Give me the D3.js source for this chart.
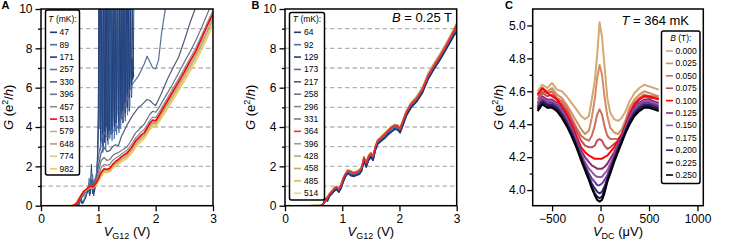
<!DOCTYPE html>
<html>
<head>
<meta charset="utf-8">
<script src="https://cdn.jsdelivr.net/npm/d3@7"></script>
<style>
body { margin: 0; background: #fff; }
svg { display: block; }
</style>
</head>
<body>
<script>
'use strict'

// ---------- panel A : G vs VG12 at B = 0 ----------
const tempsA = ['47', '89', '171', '257', '330', '396', '457', '513', '579', '648', '774', '982']
const colorsA = ['#1b3a6f', '#4c6fa6', '#1f3e7c', '#5b6f9d', '#4f5b79', '#6e7282', '#8a8a8c', '#ff0000', '#b6ae98', '#b39d70', '#dcc57d', '#eac94c']

const vA = [0.40, 0.55, 0.62, 0.68, 0.74, 0.80, 0.86, 0.91, 0.96, 1.00,
    1.05, 1.10, 1.15, 1.20, 1.25, 1.30, 1.35, 1.40, 1.45, 1.50,
    1.55, 1.60, 1.65, 1.70, 1.75, 1.80, 1.85, 1.90, 1.95, 2.00,
    2.05, 2.10, 2.20, 2.30, 2.40, 2.50, 2.60, 2.70, 2.80, 2.90, 3.00]

// the three coldest traces are very noisy, kept as (V, G) pairs
const gA47 = [[0.60, 0], [0.66, 0.05], [0.69, 0.55], [0.71, 0.1], [0.74, 0.2], [0.78, 0.4], [0.82, 0.9], [0.85, 0.5], [0.88, 2.1], [0.90, 0.6],
    [0.93, 0.9], [0.96, 1.3], [0.99, 2.5],
    [1.00, 5], [1.01, 11], [1.02, 8], [1.03, 3.9], [1.04, 11], [1.05, 11], [1.06, 4.5], [1.07, 3.4], [1.08, 9], [1.09, 11],
    [1.10, 6], [1.11, 3.2], [1.12, 11], [1.13, 7], [1.14, 4], [1.15, 11], [1.16, 11], [1.17, 5], [1.18, 3.5], [1.19, 8],
    [1.20, 11], [1.21, 4.2], [1.22, 3.6], [1.23, 11], [1.24, 9], [1.25, 4.4], [1.26, 11], [1.27, 11], [1.28, 5.2], [1.29, 3.8],
    [1.30, 10], [1.31, 11], [1.32, 4.6], [1.33, 7], [1.34, 11], [1.35, 5], [1.36, 3.9], [1.37, 11], [1.38, 8.5], [1.39, 4.8],
    [1.40, 11], [1.41, 11], [1.42, 5.5], [1.43, 4.2], [1.44, 9], [1.45, 11], [1.46, 5.8], [1.47, 4.5], [1.48, 11], [1.49, 7.5],
    [1.50, 5], [1.51, 11], [1.52, 11], [1.53, 6], [1.54, 4.8], [1.55, 10], [1.56, 11], [1.57, 6.2], [1.58, 5.5], [1.59, 11],
    [1.60, 8], [1.61, 6.5], [1.62, 11], [1.63, 11]]
const gA89 = [[0.60, 0], [0.66, 0.02], [0.70, 0.3], [0.73, 0.15], [0.77, 0.5], [0.81, 0.7], [0.84, 1.4], [0.87, 0.8], [0.90, 1.6], [0.93, 0.7],
    [0.97, 1.6],
    [1.00, 3.5], [1.01, 8], [1.02, 11], [1.03, 5], [1.04, 2.8], [1.05, 3.5], [1.06, 11], [1.07, 7], [1.08, 2.7], [1.09, 4],
    [1.10, 11], [1.11, 11], [1.12, 3.8], [1.13, 2.9], [1.14, 6], [1.15, 11], [1.16, 4.2], [1.17, 3.1], [1.18, 11], [1.19, 9],
    [1.20, 3.4], [1.21, 3.9], [1.22, 11], [1.23, 6.5], [1.24, 3.3], [1.25, 5], [1.26, 11], [1.27, 4.5], [1.28, 3.4], [1.29, 11],
    [1.30, 11], [1.31, 4], [1.32, 3.6], [1.33, 8], [1.34, 11], [1.35, 4.4], [1.36, 3.7], [1.37, 11], [1.38, 6], [1.39, 3.9],
    [1.40, 5.5], [1.41, 11], [1.42, 9], [1.43, 4.2], [1.44, 4.4], [1.45, 11], [1.46, 7], [1.47, 4.3], [1.48, 11], [1.49, 11],
    [1.50, 5], [1.51, 4.6], [1.52, 8], [1.53, 11], [1.54, 5.5], [1.55, 5], [1.56, 11], [1.57, 7], [1.58, 5.6], [1.59, 6.5],
    [1.60, 7]]
const gA171 = [[0.60, 0], [0.67, 0.1], [0.70, 0.4], [0.73, 0.1], [0.76, 0.3], [0.80, 0.6], [0.83, 1.0], [0.86, 0.6], [0.89, 1.3], [0.92, 0.5],
    [0.95, 1.0], [0.98, 1.8],
    [1.00, 4.5], [1.01, 11], [1.02, 11], [1.03, 6], [1.04, 3.2], [1.05, 7], [1.06, 11], [1.07, 5], [1.08, 3.0], [1.09, 11],
    [1.10, 11], [1.11, 4.5], [1.12, 3.5], [1.13, 9], [1.14, 11], [1.15, 4], [1.16, 3.3], [1.17, 11], [1.18, 7], [1.19, 3.8],
    [1.20, 6], [1.21, 11], [1.22, 11], [1.23, 4.5], [1.24, 3.7], [1.25, 8], [1.26, 11], [1.27, 5], [1.28, 4], [1.29, 11],
    [1.30, 8], [1.31, 4.2], [1.32, 6.5], [1.33, 11], [1.34, 11], [1.35, 4.6], [1.36, 4.1], [1.37, 10], [1.38, 11], [1.39, 5.2],
    [1.40, 4.4], [1.41, 11], [1.42, 7.5], [1.43, 4.8], [1.44, 11], [1.45, 11], [1.46, 5.5], [1.47, 4.7], [1.48, 9], [1.49, 11],
    [1.50, 6], [1.51, 5], [1.52, 11], [1.53, 8], [1.54, 5.5], [1.55, 7], [1.56, 11], [1.57, 6.5], [1.58, 6], [1.59, 7.5],
    [1.60, 6.4], [1.61, 6.8], [1.62, 6.6]]

const gA257 = [0, 0, 0.05, 0.3, 0.5, 0.8, 1.2, 1.1, 1.5, 2.4,
    3.3, 3.75, 3.5, 3.7, 3.85, 3.8, 4.1, 4.5, 4.9, 5.4,
    5.9, 6.2, 6.4, 6.6, 6.9, 7.2, 7.6, 7.3, 7.0, 6.95,
    7.4, 8.7, 10.6]
const gA330 = [0, 0, 0.08, 0.35, 0.6, 0.85, 1.1, 1.05, 1.35, 2.0,
    2.7, 2.95, 2.75, 2.8, 3.0, 3.1, 3.05, 3.5, 3.8, 4.1,
    4.35, 4.6, 4.8, 5.0, 5.1, 5.25, 5.4, 5.35, 5.2, 5.1,
    5.4, 5.7, 6.4, 7.0, 7.55, 8.4, 9.3, 10.1, 10.9, 11.7, 12.5]
const gA396 = [0, 0, 0.1, 0.38, 0.65, 0.85, 1.05, 1.0, 1.25, 1.7,
    2.3, 2.45, 2.3, 2.35, 2.55, 2.65, 2.7, 2.8, 2.9, 3.0,
    3.2, 3.45, 3.7, 3.85, 4.0, 4.15, 4.4, 4.65, 4.8, 4.75,
    4.95, 5.2, 5.7, 6.2, 6.75, 7.3, 7.82, 8.4, 9.05, 9.75, 10.4]
const gA457 = [0, 0, 0.12, 0.4, 0.7, 0.85, 1.02, 0.97, 1.2, 1.5,
    1.95, 2.1, 2.05, 2.1, 2.3, 2.42, 2.5, 2.62, 2.72, 2.82,
    3.0, 3.2, 3.45, 3.6, 3.75, 3.87, 4.1, 4.35, 4.5, 4.48,
    4.7, 4.95, 5.45, 5.95, 6.45, 6.97, 7.5, 8.02, 8.65, 9.3, 9.92]
const gA513 = [0, 0, 0.1, 0.42, 0.72, 0.85, 1.0, 0.95, 1.15, 1.35,
    1.7, 1.88, 1.85, 1.9, 2.1, 2.25, 2.35, 2.48, 2.58, 2.68,
    2.85, 3.05, 3.3, 3.45, 3.6, 3.7, 3.95, 4.2, 4.35, 4.32,
    4.55, 4.8, 5.3, 5.8, 6.3, 6.8, 7.35, 7.85, 8.5, 9.15, 9.75]
const gA579 = [0, 0, 0.12, 0.43, 0.72, 0.84, 0.98, 0.94, 1.12, 1.3,
    1.63, 1.82, 1.8, 1.85, 2.04, 2.18, 2.28, 2.41, 2.5, 2.6,
    2.77, 2.96, 3.2, 3.36, 3.51, 3.62, 3.86, 4.1, 4.25, 4.24,
    4.46, 4.7, 5.2, 5.68, 6.18, 6.68, 7.2, 7.72, 8.32, 8.95, 9.6]
const gA648 = [0, 0, 0.14, 0.44, 0.71, 0.83, 0.96, 0.93, 1.1, 1.27,
    1.58, 1.78, 1.76, 1.81, 1.99, 2.12, 2.22, 2.35, 2.44, 2.54,
    2.7, 2.89, 3.12, 3.28, 3.43, 3.55, 3.78, 4.02, 4.18, 4.17,
    4.38, 4.62, 5.1, 5.58, 6.07, 6.57, 7.08, 7.6, 8.18, 8.82, 9.48]
const gA774 = [0, 0.02, 0.16, 0.45, 0.7, 0.82, 0.94, 0.91, 1.07, 1.24,
    1.53, 1.73, 1.72, 1.77, 1.94, 2.06, 2.16, 2.29, 2.37, 2.47,
    2.63, 2.82, 3.04, 3.2, 3.35, 3.47, 3.7, 3.94, 4.1, 4.1,
    4.3, 4.53, 5.0, 5.47, 5.95, 6.45, 6.95, 7.47, 8.04, 8.68, 9.33]
const gA982 = [0, 0.03, 0.18, 0.46, 0.69, 0.8, 0.92, 0.89, 1.04, 1.2,
    1.48, 1.68, 1.68, 1.72, 1.88, 2.0, 2.1, 2.22, 2.3, 2.4,
    2.56, 2.74, 2.96, 3.12, 3.27, 3.39, 3.62, 3.86, 4.02, 4.02,
    4.22, 4.44, 4.9, 5.36, 5.83, 6.32, 6.82, 7.33, 7.9, 8.53, 9.18]

// ---------- panel B : G vs VG12 at B = 0.25 T ----------
const tempsB = ['64', '92', '129', '173', '217', '258', '296', '331', '364', '396', '428', '458', '485', '514']
const colorsB = ['#1b3a6f', '#4c6fa6', '#1f3e7c', '#5b6f9d', '#4f5b79', '#6e7282', '#8a8a8c', '#7d7d7d', '#ff2a2a', '#a39c82', '#b6a97a', '#c6ac55', '#d9bb4a', '#ecd27a']

const vB = [0.40, 0.62, 0.66, 0.70, 0.74, 0.78, 0.82, 0.86, 0.90, 0.94,
    0.98, 1.02, 1.06, 1.10, 1.15, 1.20, 1.25, 1.30, 1.34, 1.38,
    1.42, 1.46, 1.50, 1.54, 1.58, 1.62, 1.68, 1.74, 1.80, 1.86,
    1.92, 1.97, 2.01, 2.06, 2.12, 2.20, 2.30, 2.40, 2.50, 2.60,
    2.70, 2.80, 2.90, 2.96, 3.00]

const gB64 = [0, 0, 0.02, 0.35, 0.25, 0.5, 0.62, 0.75, 0.85, 0.7, 0.9, 1.25, 1.5, 1.66, 1.55, 1.52, 1.56, 1.62, 1.8, 2.3,
    1.98, 2.35, 2.5, 2.32, 2.85, 3.15, 3.3, 3.45, 3.65, 3.78, 3.92, 3.88, 3.72, 4.1, 4.6, 5.0, 5.3, 5.75, 6.45, 6.95,
    7.4, 7.9, 8.4, 8.72, 8.85]
const gB92 = [0, 0, 0.03, 0.3, 0.3, 0.52, 0.65, 0.8, 0.88, 0.75, 0.95, 1.3, 1.55, 1.7, 1.6, 1.55, 1.62, 1.68, 1.85, 2.35,
    2.05, 2.4, 2.56, 2.42, 2.92, 3.2, 3.38, 3.52, 3.7, 3.88, 3.98, 3.95, 3.8, 4.2, 4.65, 5.05, 5.36, 5.82, 6.52, 7.02,
    7.48, 7.98, 8.48, 8.8, 9.0]
const gB129 = [0, 0, 0.02, 0.38, 0.22, 0.48, 0.6, 0.74, 0.82, 0.68, 0.88, 1.22, 1.48, 1.64, 1.52, 1.48, 1.54, 1.6, 1.76, 2.25,
    1.95, 2.3, 2.45, 2.3, 2.8, 3.12, 3.28, 3.42, 3.6, 3.75, 3.88, 3.84, 3.7, 4.06, 4.55, 4.96, 5.28, 5.72, 6.42, 6.92,
    7.36, 7.86, 8.36, 8.68, 8.8]
const gB173 = [0, 0, 0.04, 0.28, 0.32, 0.55, 0.66, 0.8, 0.9, 0.76, 0.98, 1.32, 1.56, 1.72, 1.62, 1.57, 1.63, 1.7, 1.86, 2.38,
    2.08, 2.42, 2.58, 2.44, 2.94, 3.22, 3.38, 3.54, 3.72, 3.9, 4.0, 3.97, 3.82, 4.2, 4.66, 5.06, 5.38, 5.82, 6.52, 7.02,
    7.48, 7.96, 8.48, 8.8, 9.05]
const gB217 = [0, 0, 0.04, 0.22, 0.38, 0.58, 0.7, 0.85, 0.93, 0.8, 1.02, 1.37, 1.6, 1.76, 1.7, 1.63, 1.68, 1.76, 1.9, 2.42,
    2.13, 2.47, 2.62, 2.47, 2.97, 3.27, 3.43, 3.6, 3.78, 3.95, 4.05, 4.02, 3.87, 4.27, 4.72, 5.12, 5.43, 5.88, 6.57, 7.07,
    7.52, 8.02, 8.56, 8.9, 9.15]
const gB258 = [0, 0, 0.04, 0.21, 0.39, 0.59, 0.71, 0.86, 0.94, 0.81, 1.03, 1.38, 1.61, 1.77, 1.71, 1.64, 1.69, 1.77, 1.91, 2.43,
    2.14, 2.48, 2.63, 2.48, 2.98, 3.28, 3.44, 3.61, 3.79, 3.96, 4.06, 4.03, 3.88, 4.28, 4.73, 5.13, 5.44, 5.89, 6.58, 7.08,
    7.53, 8.03, 8.57, 8.92, 9.18]
const gB296 = [0, 0, 0.05, 0.2, 0.4, 0.6, 0.72, 0.87, 0.95, 0.82, 1.04, 1.39, 1.62, 1.78, 1.72, 1.65, 1.7, 1.78, 1.92, 2.44,
    2.15, 2.49, 2.64, 2.49, 2.99, 3.29, 3.45, 3.62, 3.8, 3.97, 4.07, 4.04, 3.89, 4.29, 4.74, 5.14, 5.45, 5.9, 6.59, 7.09,
    7.54, 8.04, 8.58, 8.93, 9.2]
const gB331 = [0, 0, 0.05, 0.2, 0.41, 0.6, 0.73, 0.88, 0.95, 0.83, 1.05, 1.4, 1.62, 1.78, 1.73, 1.66, 1.71, 1.79, 1.93, 2.45,
    2.16, 2.5, 2.65, 2.5, 3.0, 3.3, 3.46, 3.63, 3.81, 3.98, 4.08, 4.05, 3.9, 4.3, 4.75, 5.15, 5.46, 5.91, 6.6, 7.1,
    7.55, 8.05, 8.59, 8.94, 9.22]
const gB364 = [0, 0, 0.05, 0.2, 0.4, 0.6, 0.72, 0.88, 0.95, 0.82, 1.05, 1.4, 1.62, 1.78, 1.72, 1.65, 1.7, 1.78, 1.92, 2.45,
    2.15, 2.5, 2.65, 2.5, 3.0, 3.3, 3.45, 3.62, 3.8, 3.98, 4.08, 4.05, 3.9, 4.3, 4.75, 5.15, 5.45, 5.9, 6.6, 7.1,
    7.55, 8.05, 8.6, 8.95, 9.25]
const gB396 = [0, 0, 0.06, 0.22, 0.42, 0.61, 0.73, 0.89, 0.96, 0.84, 1.07, 1.41, 1.63, 1.79, 1.74, 1.67, 1.72, 1.8, 1.94, 2.46,
    2.18, 2.52, 2.67, 2.53, 3.02, 3.32, 3.48, 3.65, 3.83, 4.0, 4.1, 4.07, 3.93, 4.32, 4.78, 5.18, 5.49, 5.95, 6.65, 7.15,
    7.6, 8.1, 8.64, 8.98, 9.22]
const gB428 = [0, 0.01, 0.07, 0.23, 0.43, 0.62, 0.74, 0.9, 0.97, 0.85, 1.08, 1.42, 1.64, 1.8, 1.75, 1.68, 1.73, 1.81, 1.95, 2.47,
    2.19, 2.53, 2.68, 2.54, 3.03, 3.33, 3.49, 3.66, 3.84, 4.01, 4.11, 4.08, 3.94, 4.33, 4.79, 5.2, 5.51, 5.97, 6.68, 7.18,
    7.63, 8.13, 8.66, 9.0, 9.22]
const gB458 = [0, 0.01, 0.08, 0.24, 0.44, 0.62, 0.75, 0.9, 0.97, 0.86, 1.09, 1.43, 1.65, 1.81, 1.76, 1.69, 1.74, 1.82, 1.96, 2.48,
    2.2, 2.54, 2.69, 2.55, 3.04, 3.34, 3.5, 3.67, 3.85, 4.02, 4.12, 4.09, 3.95, 4.34, 4.8, 5.21, 5.53, 5.99, 6.7, 7.2,
    7.65, 8.15, 8.68, 9.02, 9.2]
const gB485 = [0, 0.02, 0.09, 0.25, 0.45, 0.63, 0.75, 0.91, 0.98, 0.87, 1.1, 1.44, 1.66, 1.82, 1.77, 1.7, 1.75, 1.83, 1.97, 2.49,
    2.21, 2.55, 2.7, 2.56, 3.05, 3.35, 3.51, 3.68, 3.86, 4.03, 4.13, 4.1, 3.96, 4.35, 4.81, 5.22, 5.55, 6.01, 6.72, 7.22,
    7.67, 8.17, 8.7, 9.04, 9.2]
const gB514 = [0, 0.02, 0.1, 0.26, 0.46, 0.64, 0.76, 0.92, 0.99, 0.88, 1.11, 1.45, 1.67, 1.83, 1.78, 1.71, 1.76, 1.84, 1.98, 2.5,
    2.22, 2.56, 2.71, 2.57, 3.06, 3.36, 3.52, 3.69, 3.87, 4.04, 4.14, 4.11, 3.97, 4.36, 4.82, 5.23, 5.57, 6.03, 6.74, 7.24,
    7.69, 8.19, 8.72, 9.06, 9.2]

// ---------- panel C : G vs VDC at T = 364 mK ----------
const fieldsC = ['0.000', '0.025', '0.050', '0.075', '0.100', '0.125', '0.150', '0.175', '0.200', '0.225', '0.250']
const colorsC = ['#d4a870', '#d48c62', '#cc6e5c', '#bf4c5a', '#ff0000', '#8c2c72', '#9b55a3', '#6a3c9c', '#3c1f70', '#1d1b3c', '#000000']

const vC = [-650, -600, -550, -500, -450, -400, -350, -300, -250, -200,
    -160, -120, -90, -60, -35, -10, 15, 40, 70, 100,
    140, 180, 220, 260, 300, 350, 400, 450, 500, 550, 600]

const gC000 = [4.60, 4.64, 4.62, 4.65, 4.61, 4.60, 4.57, 4.53, 4.49, 4.45, 4.43, 4.45, 4.55, 4.66, 4.82, 5.02, 4.93, 4.76, 4.56, 4.47,
    4.43, 4.42, 4.44, 4.48, 4.54, 4.59, 4.62, 4.64, 4.63, 4.62, 4.61]
const gC025 = [4.58, 4.62, 4.60, 4.62, 4.58, 4.56, 4.52, 4.47, 4.42, 4.37, 4.34, 4.36, 4.44, 4.55, 4.68, 4.76, 4.70, 4.57, 4.45, 4.38,
    4.35, 4.34, 4.37, 4.43, 4.50, 4.55, 4.58, 4.60, 4.59, 4.58, 4.57]
const gC050 = [4.57, 4.60, 4.59, 4.60, 4.56, 4.54, 4.50, 4.44, 4.38, 4.33, 4.31, 4.30, 4.33, 4.39, 4.46, 4.49, 4.46, 4.39, 4.33, 4.31,
    4.31, 4.31, 4.34, 4.41, 4.48, 4.53, 4.56, 4.58, 4.57, 4.57, 4.56]
const gC075 = [4.55, 4.59, 4.57, 4.58, 4.55, 4.52, 4.48, 4.42, 4.36, 4.30, 4.27, 4.26, 4.26, 4.27, 4.30, 4.31, 4.30, 4.27, 4.25, 4.26,
    4.28, 4.30, 4.34, 4.40, 4.46, 4.52, 4.55, 4.57, 4.56, 4.56, 4.55]
const gC100 = [4.58, 4.62, 4.59, 4.57, 4.55, 4.51, 4.46, 4.40, 4.33, 4.26, 4.23, 4.21, 4.20, 4.19, 4.19, 4.19, 4.19, 4.20, 4.21, 4.23,
    4.26, 4.30, 4.34, 4.40, 4.46, 4.52, 4.55, 4.57, 4.57, 4.56, 4.55]
const gC125 = [4.53, 4.57, 4.55, 4.55, 4.53, 4.49, 4.44, 4.38, 4.31, 4.24, 4.20, 4.17, 4.15, 4.14, 4.13, 4.13, 4.13, 4.14, 4.16, 4.19,
    4.23, 4.28, 4.33, 4.39, 4.45, 4.50, 4.53, 4.55, 4.55, 4.54, 4.53]
const gC150 = [4.52, 4.56, 4.54, 4.54, 4.52, 4.48, 4.43, 4.37, 4.30, 4.22, 4.17, 4.13, 4.11, 4.09, 4.08, 4.08, 4.08, 4.10, 4.12, 4.16,
    4.21, 4.27, 4.32, 4.38, 4.44, 4.49, 4.52, 4.54, 4.54, 4.53, 4.52]
const gC175 = [4.51, 4.55, 4.53, 4.53, 4.51, 4.47, 4.42, 4.36, 4.29, 4.21, 4.15, 4.10, 4.07, 4.05, 4.03, 4.03, 4.04, 4.06, 4.09, 4.14,
    4.20, 4.26, 4.31, 4.37, 4.43, 4.48, 4.51, 4.53, 4.53, 4.52, 4.51]
const gC200 = [4.50, 4.54, 4.52, 4.52, 4.50, 4.46, 4.41, 4.35, 4.28, 4.20, 4.14, 4.08, 4.04, 4.01, 3.99, 3.98, 3.99, 4.02, 4.07, 4.12,
    4.19, 4.25, 4.31, 4.36, 4.42, 4.47, 4.50, 4.52, 4.52, 4.51, 4.50]
const gC225 = [4.49, 4.53, 4.51, 4.51, 4.49, 4.45, 4.40, 4.34, 4.27, 4.19, 4.13, 4.07, 4.02, 3.98, 3.96, 3.95, 3.96, 4.00, 4.06, 4.11,
    4.18, 4.24, 4.30, 4.36, 4.41, 4.46, 4.49, 4.51, 4.51, 4.50, 4.49]
const gC250 = [4.48, 4.52, 4.50, 4.50, 4.48, 4.44, 4.39, 4.33, 4.26, 4.18, 4.12, 4.06, 4.01, 3.97, 3.94, 3.93, 3.94, 3.98, 4.05, 4.10,
    4.17, 4.23, 4.29, 4.35, 4.40, 4.45, 4.48, 4.50, 4.50, 4.49, 4.48]

const yTicksA = [0, 2, 4, 6, 8, 10]
const yMinorA = [1, 3, 5, 7, 9]
const gridA = [1, 2, 3, 4, 5, 6, 7, 8, 9]
const xTicksA = [0, 1, 2, 3]
const yTicksC = [4.0, 4.2, 4.4, 4.6, 4.8, 5.0]
const yMinorC = [4.1, 4.3, 4.5, 4.7, 4.9]
const xTicksC = [-500, 0, 500, 1000]

// ---------- drawing ----------
const font = '"Liberation Sans", Arial, Helvetica, sans-serif'
const svg = d3.select('body').append('svg')
    .attr('width', 733).attr('height', 242)
    .attr('font-family', font)

let clipCount = 0

function drawPanel(p) {
    const x = d3.scaleLinear().domain(p.xDomain).range([p.left, p.right])
    const y = d3.scaleLinear().domain(p.yDomain).range([p.bottom, p.top])
    const g = svg.append('g')

    if (p.grid) {
        g.append('g').selectAll('line').data(p.grid).enter().append('line')
            .attr('x1', p.left).attr('x2', p.right)
            .attr('y1', d => y(d)).attr('y2', d => y(d))
            .attr('stroke', '#b4b4b4').attr('stroke-width', 1.3)
            .attr('stroke-dasharray', '4.5,3')
    }

    const id = 'clip' + clipCount++
    svg.append('clipPath').attr('id', id).append('rect')
        .attr('x', p.left).attr('y', p.top)
        .attr('width', p.right - p.left).attr('height', p.bottom - p.top)

    const line = d3.line().x(d => x(d[0])).y(d => y(d[1]))
    g.append('g').attr('clip-path', `url(#${id})`)
        .selectAll('path').data(p.series).enter().append('path')
        .attr('d', d => line(d.points))
        .attr('fill', 'none')
        .attr('stroke', d => d.color)
        .attr('stroke-width', d => d.width)
        .attr('stroke-linejoin', 'round')

    g.append('rect')
        .attr('x', p.left).attr('y', p.top)
        .attr('width', p.right - p.left).attr('height', p.bottom - p.top)
        .attr('fill', 'none').attr('stroke', '#000').attr('stroke-width', 1.5)

    const styleAxis = a => {
        a.select('.domain').remove()
        a.selectAll('.tick line').attr('stroke', '#000').attr('stroke-width', 1.3)
        a.selectAll('.tick text').attr('fill', '#000').attr('font-size', 12).attr('font-family', font)
    }

    g.append('g').attr('transform', `translate(${p.left},0)`)
        .call(d3.axisLeft(y).tickValues(p.yMinor).tickSize(3).tickFormat(''))
        .call(styleAxis)
    g.append('g').attr('transform', `translate(${p.left},0)`)
        .call(d3.axisLeft(y).tickValues(p.yTicks).tickFormat(p.yFormat).tickSize(5.5).tickPadding(p.yPad))
        .call(styleAxis)
    g.append('g').attr('transform', `translate(0,${p.bottom})`)
        .call(d3.axisBottom(x).tickValues(p.xTicks).tickFormat(p.xFormat).tickSize(5.5).tickPadding(3.5))
        .call(styleAxis)

    // axis titles
    const yl = g.append('text')
        .attr('transform', `translate(${p.yLabelX},${(p.top + p.bottom) / 2}) rotate(-90)`)
        .attr('text-anchor', 'middle').attr('font-size', 13)
    yl.append('tspan').attr('font-style', 'italic').text('G')
    yl.append('tspan').text(' (e')
    yl.append('tspan').attr('font-size', 9).attr('dy', -5).text('2')
    yl.append('tspan').attr('dy', 5).text('/')
    yl.append('tspan').attr('font-style', 'italic').text('h')
    yl.append('tspan').text(')')

    const xl = g.append('text')
        .attr('x', (p.left + p.right) / 2).attr('y', 236)
        .attr('text-anchor', 'middle').attr('font-size', 13)
    xl.append('tspan').attr('font-style', 'italic').text('V')
    xl.append('tspan').attr('font-size', 9).attr('dy', 2.5).text(p.xSub)
    xl.append('tspan').attr('dy', -2.5).text(p.xUnit)

    return { x, y }
}

function drawLegend(l) {
    const g = svg.append('g')
    g.append('rect')
        .attr('x', l.x).attr('y', l.y).attr('width', l.w).attr('height', l.h)
        .attr('rx', 2).attr('fill', '#fff').attr('stroke', '#000').attr('stroke-width', 1.5)
    const t = g.append('text')
        .attr('x', l.x + l.w / 2).attr('y', l.titleY)
        .attr('text-anchor', 'middle').attr('font-size', 8.5)
    t.append('tspan').attr('font-style', 'italic').text(l.sym)
    t.append('tspan').text(l.unit)
    const rows = g.selectAll('g.row').data(l.labels).enter().append('g')
        .attr('transform', (d, i) => `translate(${l.x},${l.rowY + i * l.step})`)
    rows.append('line')
        .attr('x1', 4.5).attr('x2', 11.5)
        .attr('stroke', (d, i) => l.colors[i]).attr('stroke-width', 1.6)
    rows.append('text')
        .attr('x', l.textX).attr('dy', '0.35em')
        .attr('font-size', 8.5).text(d => d)
}

// panel A
const pointsA = [gA47, gA89, gA171].concat(
    [gA257, gA330, gA396, gA457, gA513, gA579, gA648, gA774, gA982].map(v => d3.zip(vA, v)))
const widthA = t => t === '513' ? 1.6 : (['47', '89', '171'].includes(t) ? 0.9 : 1.2)
const seriesA = tempsA.map((t, i) => ({ label: t, points: pointsA[i], color: colorsA[i], width: widthA(t) }))
const orderA = seriesA.filter(s => s.label !== '513').concat(seriesA.filter(s => s.label === '513'))

drawPanel({
    left: 41, right: 213, top: 9, bottom: 205.7,
    xDomain: [0, 3], yDomain: [0, 10],
    grid: gridA, series: orderA,
    yTicks: yTicksA, yMinor: yMinorA, yFormat: d3.format('d'), yPad: 3,
    xTicks: xTicksA, xFormat: d3.format('d'),
    yLabelX: 13, xSub: 'G12', xUnit: ' (V)'
})
drawLegend({
    x: 45.5, y: 10, w: 34, h: 165, titleY: 22.3, rowY: 32.3, step: 12.4, textX: 14,
    sym: 'T', unit: ' (mK):', labels: tempsA, colors: colorsA
})

// panel B
const pointsB = [gB64, gB92, gB129, gB173, gB217, gB258, gB296, gB331, gB364, gB396, gB428, gB458, gB485, gB514]
    .map(v => d3.zip(vB, v))
const seriesB = tempsB.map((t, i) => ({ label: t, points: pointsB[i], color: colorsB[i], width: t === '364' ? 1.6 : 1.4 }))
const orderB = seriesB.filter(s => s.label !== '364').reverse().concat(seriesB.filter(s => s.label === '364'))

drawPanel({
    left: 285, right: 456.7, top: 9, bottom: 205.7,
    xDomain: [0, 3], yDomain: [0, 10],
    grid: gridA, series: orderB,
    yTicks: yTicksA, yMinor: yMinorA, yFormat: d3.format('d'), yPad: 3,
    xTicks: xTicksA, xFormat: d3.format('d'),
    yLabelX: 255, xSub: 'G12', xUnit: ' (V)'
})
drawLegend({
    x: 289.5, y: 12.5, w: 35, h: 187.5, titleY: 22.3, rowY: 32.3, step: 12.38, textX: 14.5,
    sym: 'T', unit: ' (mK):', labels: tempsB, colors: colorsB
})
const bText = svg.append('text').attr('x', 452).attr('y', 22).attr('text-anchor', 'end').attr('font-size', 13)
bText.append('tspan').attr('font-style', 'italic').text('B')
bText.append('tspan').text(' = 0.25 T')

// panel C
const pointsC = [gC000, gC025, gC050, gC075, gC100, gC125, gC150, gC175, gC200, gC225, gC250].map(v => d3.zip(vC, v))
const seriesC = fieldsC.map((f, i) => ({ label: f, points: pointsC[i], color: colorsC[i], width: 2 }))

drawPanel({
    left: 532.7, right: 703.3, top: 9, bottom: 205.7,
    xDomain: [-700, 1060], yDomain: [3.905, 5.1],
    grid: null, series: seriesC,
    yTicks: yTicksC, yMinor: yMinorC, yFormat: d3.format('.1f'), yPad: 1.5,
    xTicks: xTicksC, xFormat: d3.format('d'),
    yLabelX: 503, xSub: 'DC', xUnit: ' (\u03bcV)'
})
drawLegend({
    x: 661.5, y: 31, w: 38.5, h: 152.5, titleY: 41, rowY: 51, step: 12.4, textX: 14,
    sym: 'B', unit: ' (T):', labels: fieldsC, colors: colorsC
})
const cText = svg.append('text').attr('x', 689).attr('y', 25).attr('text-anchor', 'end').attr('font-size', 13)
cText.append('tspan').attr('font-style', 'italic').text('T')
cText.append('tspan').text(' = 364 mK')

// panel letters
svg.selectAll('text.letter').data([['A', 1.5], ['B', 251.5], ['C', 505]]).enter().append('text')
    .attr('x', d => d[1]).attr('y', 8.5)
    .attr('font-size', 11).attr('font-weight', 'bold').text(d => d[0])
</script>
</body>
</html>
